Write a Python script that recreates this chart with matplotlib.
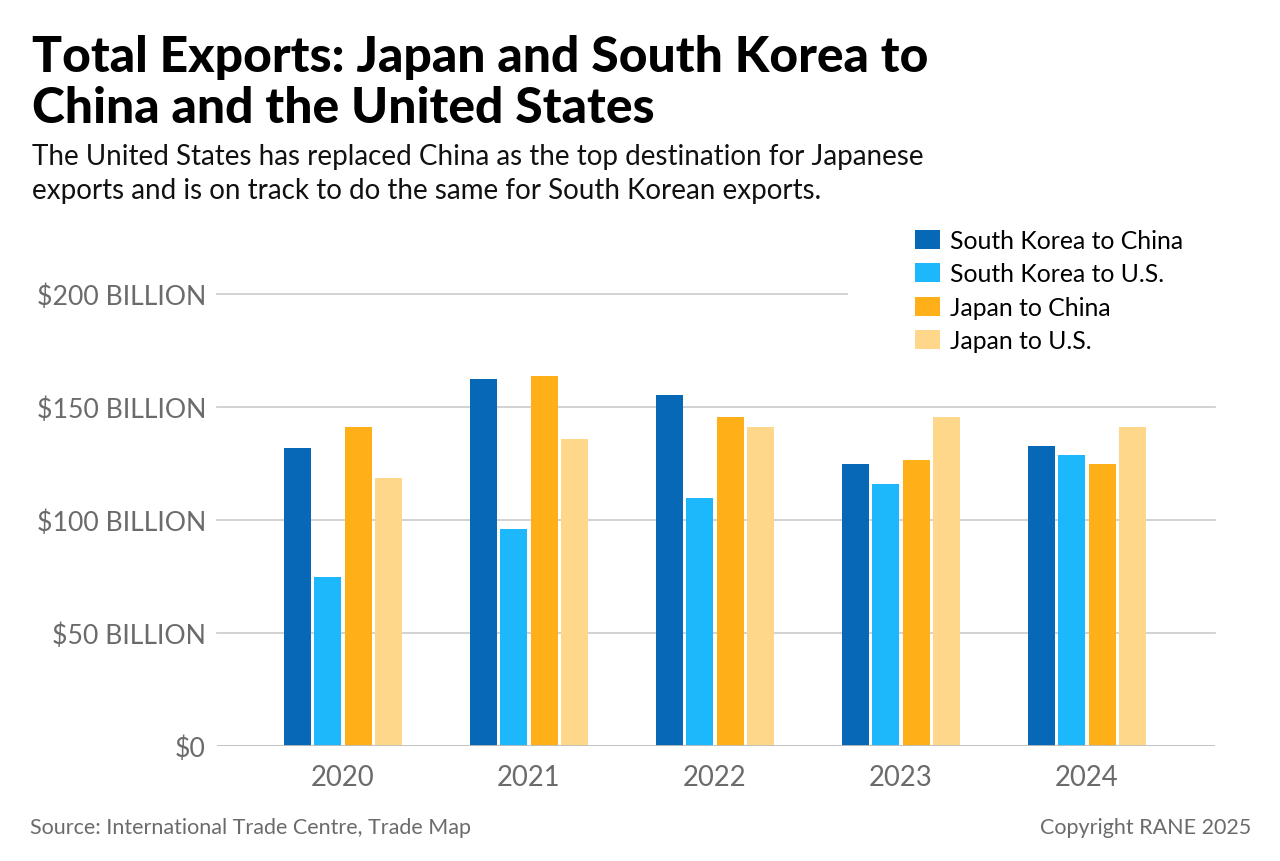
import numpy as np
import matplotlib.pyplot as plt
from matplotlib.patches import Patch

plt.rcParams['font.family'] = ['Lato', 'DejaVu Sans']

# Data (billions of USD)
years = ['2020', '2021', '2022', '2023', '2024']
sk_china = [132, 162.5, 155.3, 124.8, 132.7]
sk_us = [74.8, 96, 109.7, 115.9, 128.8]
jp_china = [141.2, 163.7, 145.6, 126.5, 124.8]
jp_us = [118.6, 135.8, 141.2, 145.6, 141.2]

series = ['South Korea to China', 'South Korea to U.S.', 'Japan to China', 'Japan to U.S.']
colors = ['#0868B8', '#1DB8FC', '#FFAF18', '#FFD78A']
yticks = [0, 50, 100, 150, 200]
ytick_labels = ['$0', '$50 BILLION', '$100 BILLION', '$150 BILLION', '$200 BILLION']

fig = plt.figure(figsize=(12.8, 8.62), dpi=100)
ax = fig.add_axes([217 / 1280, 1 - 747 / 862, 998 / 1280, 452 / 862])

x = np.arange(len(years))
step = 0.164
width = 0.146
for i, (vals, c) in enumerate(zip([sk_china, sk_us, jp_china, jp_us], colors)):
    ax.bar(x + (i - 1.5) * step, vals, width=width, color=c, zorder=3)

# gridlines (the top one stops short of the legend)
for v in yticks[1:]:
    xmax = 0.631 if v == 200 else 1
    ax.axhline(v, xmin=0, xmax=xmax, color='#CBCBCB', lw=1.2, zorder=1, clip_on=False)
ax.axhline(0, color='#BDBDBD', lw=2, zorder=4)

ax.set_xlim(-0.677, 4.688)
ax.set_ylim(0, 200)
ax.set_yticks(yticks)
ax.set_yticklabels(ytick_labels)
ax.set_xticks(x)
ax.set_xticklabels(years)
ax.tick_params(axis='y', length=0, pad=8, labelsize=19.2, labelcolor='#6B6B6B')
ax.tick_params(axis='x', length=0, pad=13, labelsize=19.8, labelcolor='#6B6B6B')
for s in ax.spines.values():
    s.set_visible(False)

# titles
fig.text(32 / 1280, 1 - 35 / 862, 'Total Exports: Japan and South Korea to\nChina and the United States',
         fontsize=35.8, fontweight='black', color='#000000', va='top', ha='left', linespacing=1.17)
fig.text(32 / 1280, 1 - 144 / 862, 'The United States has replaced China as the top destination for Japanese\n'
         'exports and is on track to do the same for South Korean exports.',
         fontsize=20, color='#111111', va='top', ha='left', linespacing=1.38)

# legend
handles = [Patch(facecolor=c, edgecolor='none', label=s) for s, c in zip(series, colors)]
fig.legend(handles=handles, loc='upper left', bbox_to_anchor=(905 / 1280, 1 - 220 / 862),
           frameon=False, fontsize=17.8, handlelength=1.0, handleheight=0.8,
           handletextpad=0.4, labelspacing=0.42, borderaxespad=0)

# footer
fig.text(30 / 1280, 1 - 828 / 862, 'Source: International Trade Centre, Trade Map',
         fontsize=15.5, color='#6B6B6B', va='center', ha='left')
fig.text(1251 / 1280, 1 - 828 / 862, 'Copyright RANE 2025',
         fontsize=15.5, color='#6B6B6B', va='center', ha='right')

fig.savefig('out.png', dpi=100)
